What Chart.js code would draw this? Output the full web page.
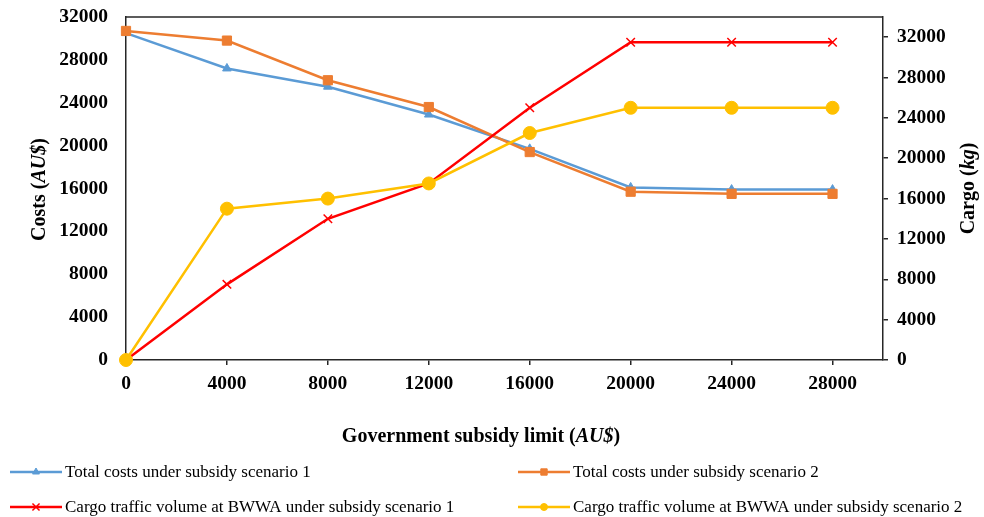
<!DOCTYPE html>
<html>
<head>
<meta charset="utf-8">
<script src="https://cdn.jsdelivr.net/npm/chart.js@4/dist/chart.umd.min.js"></script>
<style>
  html, body { margin: 0; padding: 0; background: #fff; }
  #wrap { width: 984px; height: 517px; position: relative; }
</style>
</head>
<body>
<div id="wrap"><canvas id="chart" width="984" height="517"></canvas></div>
<script>
// Government subsidy limit (AU$) on the x axis
const subsidyLimits = [0, 4000, 8000, 12000, 16000, 20000, 24000, 28000];

// Total costs (AU$), left axis
const totalCostsScenario1 = [30500, 27200, 25500, 22900, 19700, 16100, 15900, 15900];
const totalCostsScenario2 = [30700, 29800, 26100, 23600, 19400, 15700, 15500, 15500];

// Cargo traffic volume at BWWA (kg), right axis
const cargoScenario1 = [0, 7500, 14000, 17500, 25000, 31500, 31500, 31500];
const cargoScenario2 = [0, 15000, 16000, 17500, 22500, 25000, 25000, 25000];

// Tick labels
const xTicks = [0, 4000, 8000, 12000, 16000, 20000, 24000, 28000];
const costTicks = [0, 4000, 8000, 12000, 16000, 20000, 24000, 28000, 32000];
const cargoTicks = [0, 4000, 8000, 12000, 16000, 20000, 24000, 28000, 32000];

const seriesLabels = [
  'Total costs under subsidy scenario 1',
  'Total costs under subsidy scenario 2',
  'Cargo traffic volume at BWWA under subsidy scenario 1',
  'Cargo traffic volume at BWWA under subsidy scenario 2'
];

const SERIF = '"Liberation Serif", "Times New Roman", serif';
const AXIS_COLOR = '#262626';

function toPoints(values) {
  return subsidyLimits.map((x, i) => ({ x: x, y: values[i] }));
}

function fixedTicks(list) {
  return function (scale) {
    scale.ticks = list.map(v => ({ value: v }));
  };
}

// Fixed axis box size; label overflow is allowed past the plot edges
function fixedSize(dim, size) {
  return function (scale) {
    scale[dim] = size;
    scale.paddingTop = 0;
    scale.paddingBottom = 0;
    scale.paddingLeft = 0;
    scale.paddingRight = 0;
  };
}

// Draws a run of text pieces (some italic) centred on (x, y), optionally rotated
function drawRichText(ctx, parts, x, y, rotation) {
  ctx.save();
  ctx.translate(x, y);
  ctx.rotate(rotation || 0);
  ctx.textBaseline = 'middle';
  ctx.textAlign = 'left';
  let total = 0;
  const widths = parts.map(p => {
    ctx.font = p.font;
    const w = ctx.measureText(p.text).width;
    total += w;
    return w;
  });
  let cx = -total / 2;
  parts.forEach((p, i) => {
    ctx.font = p.font;
    ctx.fillStyle = '#000';
    ctx.fillText(p.text, cx, 0);
    cx += widths[i];
  });
  ctx.restore();
}

// Legend marker: a short line with the series' point style on it
function drawLegendMarker(ctx, ds, x0, y0, lineLen) {
  ctx.save();
  ctx.strokeStyle = ds.borderColor;
  ctx.lineWidth = 2.5;
  ctx.beginPath();
  ctx.moveTo(x0, y0);
  ctx.lineTo(x0 + lineLen, y0);
  ctx.stroke();
  ctx.fillStyle = ds.pointBackgroundColor;
  ctx.strokeStyle = ds.pointBorderColor;
  ctx.lineWidth = ds.pointBorderWidth || 1;
  Chart.helpers.drawPoint(ctx, {
    pointStyle: ds.pointStyle,
    radius: ds.legendRadius,
    borderWidth: ds.pointBorderWidth || 1,
    rotation: 0
  }, x0 + lineLen / 2, y0);
  ctx.restore();
}

const decorations = {
  id: 'decorations',
  afterDraw(chart) {
    const ctx = chart.ctx;
    const a = chart.chartArea;

    // top frame line
    ctx.save();
    ctx.strokeStyle = AXIS_COLOR;
    ctx.lineWidth = 1.5;
    ctx.beginPath();
    ctx.moveTo(a.left, a.top);
    ctx.lineTo(a.right, a.top);
    ctx.stroke();
    ctx.restore();

    const bold = 'bold 20px ' + SERIF;
    const boldItalic = 'italic bold 20px ' + SERIF;

    // axis titles
    drawRichText(ctx, [
      { text: 'Costs (', font: bold },
      { text: 'AU$', font: boldItalic },
      { text: ')', font: bold }
    ], 40, (a.top + a.bottom) / 2 + 1, -Math.PI / 2);

    drawRichText(ctx, [
      { text: 'Cargo (', font: bold },
      { text: 'kg', font: boldItalic },
      { text: ')', font: bold }
    ], 969, (a.top + a.bottom) / 2, -Math.PI / 2);

    drawRichText(ctx, [
      { text: 'Government subsidy limit (', font: bold },
      { text: 'AU$', font: boldItalic },
      { text: ')', font: bold }
    ], 481, 437, 0);

    // legend: two columns, two rows
    const cols = [10, 518];
    const rows = [472, 507];
    const lineLen = 52;
    chart.data.datasets.forEach((ds, i) => {
      const x0 = cols[i % 2];
      const y0 = rows[Math.floor(i / 2)];
      drawLegendMarker(ctx, ds, x0, y0, lineLen);
      ctx.save();
      ctx.font = '17px ' + SERIF;
      ctx.fillStyle = '#000';
      ctx.textBaseline = 'middle';
      ctx.textAlign = 'left';
      ctx.fillText(ds.label, x0 + lineLen + 3, y0 + 1);
      ctx.restore();
    });
  }
};

const datasets = [
  {
    label: seriesLabels[0],
    data: toPoints(totalCostsScenario1),
    yAxisID: 'y',
    borderColor: '#5B9BD5',
    backgroundColor: '#5B9BD5',
    pointBackgroundColor: '#5B9BD5',
    pointBorderColor: '#5B9BD5',
    pointStyle: 'triangle',
    pointRadius: 5,
    pointBorderWidth: 1,
    legendRadius: 4,
    order: 4
  },
  {
    label: seriesLabels[1],
    data: toPoints(totalCostsScenario2),
    yAxisID: 'y',
    borderColor: '#ED7D31',
    backgroundColor: '#ED7D31',
    pointBackgroundColor: '#ED7D31',
    pointBorderColor: '#ED7D31',
    pointStyle: 'rect',
    pointRadius: 6.5,
    pointBorderWidth: 1,
    legendRadius: 4.5,
    order: 3
  },
  {
    label: seriesLabels[2],
    data: toPoints(cargoScenario1),
    yAxisID: 'y1',
    borderColor: '#FF0000',
    backgroundColor: '#FF0000',
    pointBackgroundColor: '#FF0000',
    pointBorderColor: '#FF0000',
    pointStyle: 'crossRot',
    pointRadius: 6,
    pointBorderWidth: 1.5,
    legendRadius: 5,
    order: 2
  },
  {
    label: seriesLabels[3],
    data: toPoints(cargoScenario2),
    yAxisID: 'y1',
    borderColor: '#FFC000',
    backgroundColor: '#FFC000',
    pointBackgroundColor: '#FFC000',
    pointBorderColor: '#FFC000',
    pointStyle: 'circle',
    pointRadius: 6.5,
    pointBorderWidth: 1,
    legendRadius: 3.5,
    order: 1
  }
];
datasets.forEach(ds => {
  ds.borderWidth = 2.5;
  ds.tension = 0;
  ds.fill = false;
  ds.clip = false;
  ds.pointHoverRadius = ds.pointRadius;
});

const tickFont = { family: SERIF, size: 19.5, weight: 'bold' };

new Chart(document.getElementById('chart'), {
  type: 'line',
  data: { datasets: datasets },
  options: {
    responsive: false,
    animation: false,
    events: [],
    layout: { padding: { top: 17, left: 0, right: 0, bottom: 0 } },
    plugins: {
      legend: { display: false },
      tooltip: { enabled: false },
      title: { display: false }
    },
    scales: {
      x: {
        type: 'linear',
        position: 'bottom',
        min: 0,
        max: 30000,
        afterBuildTicks: fixedTicks(xTicks),
        afterFit: fixedSize('height', 157),
        ticks: {
          font: tickFont,
          color: '#000',
          padding: 7,
          maxRotation: 0,
          autoSkip: false,
          callback: v => String(v)
        },
        grid: {
          display: true,
          drawOnChartArea: false,
          drawTicks: true,
          tickLength: 5,
          color: AXIS_COLOR,
          lineWidth: 1.5
        },
        border: { display: true, color: AXIS_COLOR, width: 1.5 }
      },
      y: {
        type: 'linear',
        position: 'left',
        min: 0,
        max: 32000,
        afterBuildTicks: fixedTicks(costTicks),
        afterFit: fixedSize('width', 126),
        ticks: {
          font: tickFont,
          color: '#000',
          padding: 18,
          autoSkip: false,
          callback: v => String(v)
        },
        grid: {
          display: true,
          drawOnChartArea: false,
          drawTicks: false,
          color: AXIS_COLOR,
          lineWidth: 1.5
        },
        border: { display: true, color: AXIS_COLOR, width: 1.5 }
      },
      y1: {
        type: 'linear',
        position: 'right',
        min: 0,
        max: 34000,
        afterBuildTicks: fixedTicks(cargoTicks),
        afterFit: fixedSize('width', 101),
        ticks: {
          font: tickFont,
          color: '#000',
          padding: 9,
          autoSkip: false,
          callback: v => String(v)
        },
        grid: {
          display: true,
          drawOnChartArea: false,
          drawTicks: true,
          tickLength: 5,
          color: AXIS_COLOR,
          lineWidth: 1.5
        },
        border: { display: true, color: AXIS_COLOR, width: 1.5 }
      }
    }
  },
  plugins: [decorations]
});
</script>
</body>
</html>
